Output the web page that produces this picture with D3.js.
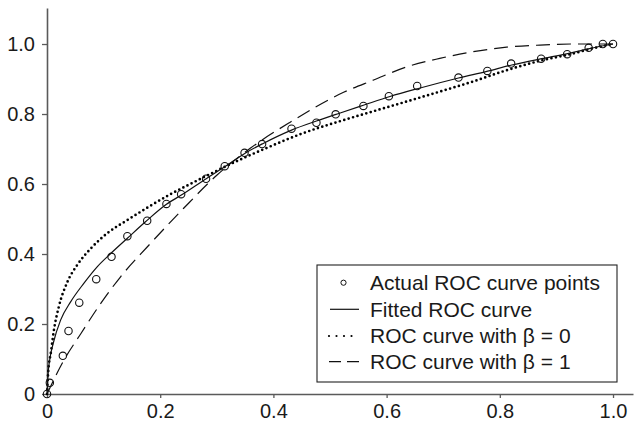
<!DOCTYPE html>
<html>
<head>
<meta charset="utf-8">
<script src="https://cdn.jsdelivr.net/npm/d3@7"></script>
<style>
  html, body { margin: 0; padding: 0; background: #fff; }
  svg { display: block; }
  text { font-family: "Liberation Sans", Arial, Helvetica, sans-serif; fill: #1a1a1a; }
</style>
</head>
<body>
<svg id="chart" width="634" height="425"></svg>
<script>
// ---- data ----
const pointsX = [0, 0.005, 0.028, 0.038, 0.057, 0.087, 0.114, 0.142, 0.177, 0.211, 0.237, 0.281, 0.314, 0.349, 0.380, 0.432, 0.476, 0.510, 0.559, 0.604, 0.654, 0.727, 0.778, 0.820, 0.873, 0.919, 0.957, 0.982, 1.0];
const pointsY = [0, 0.032, 0.109, 0.180, 0.261, 0.328, 0.392, 0.451, 0.495, 0.543, 0.571, 0.615, 0.651, 0.689, 0.714, 0.758, 0.775, 0.799, 0.823, 0.851, 0.880, 0.904, 0.923, 0.944, 0.958, 0.971, 0.989, 1.0, 1.0];

const fittedX = [0, 0.002, 0.005, 0.011, 0.024, 0.042, 0.065, 0.089, 0.113, 0.142, 0.174, 0.211, 0.238, 0.282, 0.314, 0.350, 0.382, 0.432, 0.476, 0.518, 0.559, 0.606, 0.656, 0.727, 0.777, 0.821, 0.874, 0.918, 0.956, 0.983, 1.0];
const fittedY = [0, 0.060, 0.100, 0.145, 0.211, 0.264, 0.316, 0.364, 0.402, 0.445, 0.492, 0.542, 0.569, 0.616, 0.649, 0.688, 0.716, 0.754, 0.780, 0.803, 0.825, 0.850, 0.873, 0.903, 0.922, 0.940, 0.958, 0.972, 0.986, 0.995, 1.0];

const beta0X = [0, 0.002, 0.007, 0.012, 0.021, 0.036, 0.054, 0.077, 0.107, 0.142, 0.182, 0.217, 0.253, 0.300, 0.347, 0.388, 0.447, 0.535, 0.577, 0.636, 0.694, 0.753, 0.812, 0.871, 0.930, 0.965, 1.0];
const beta0Y = [0, 0.060, 0.120, 0.180, 0.250, 0.320, 0.370, 0.415, 0.460, 0.497, 0.537, 0.570, 0.600, 0.638, 0.674, 0.703, 0.742, 0.788, 0.808, 0.836, 0.864, 0.893, 0.925, 0.952, 0.973, 0.988, 1.0];

const beta1X = [0, 0.030, 0.060, 0.095, 0.130, 0.177, 0.241, 0.300, 0.359, 0.429, 0.524, 0.577, 0.636, 0.694, 0.753, 0.812, 0.871, 0.930, 1.0];
const beta1Y = [0, 0.097, 0.173, 0.259, 0.335, 0.420, 0.530, 0.625, 0.702, 0.776, 0.862, 0.897, 0.935, 0.959, 0.978, 0.991, 0.997, 1.0, 1.0];

const tickValues = [0, 0.2, 0.4, 0.6, 0.8, 1.0];
const tickLabels = ["0", "0.2", "0.4", "0.6", "0.8", "1.0"];

const legendLabels = ["Actual ROC curve points", "Fitted ROC curve", "ROC curve with \u03B2 = 0", "ROC curve with \u03B2 = 1"];

// ---- drawing ----
const svg = d3.select("#chart");

const x = d3.scaleLinear().domain([0, 1.0353]).range([47, 633]);
const y = d3.scaleLinear().domain([0, 1.1029]).range([394, 8]);

const axisColor = "#5a5a5a";

const xAxis = d3.axisBottom(x)
  .tickValues(tickValues)
  .tickFormat((d, i) => tickLabels[i])
  .tickSizeInner(4).tickSizeOuter(0).tickPadding(6);
const yAxis = d3.axisLeft(y)
  .tickValues(tickValues)
  .tickFormat((d, i) => tickLabels[i])
  .tickSizeInner(5).tickSizeOuter(0).tickPadding(7);

const gx = svg.append("g").attr("transform", `translate(0,${y(0)})`).call(xAxis);
const gy = svg.append("g").attr("transform", `translate(${x(0)},0)`).call(yAxis);
[gx, gy].forEach(g => {
  g.select(".domain").attr("stroke", axisColor).attr("stroke-width", 1.6);
  g.selectAll(".tick line").attr("stroke", axisColor).attr("stroke-width", 1.3);
  g.selectAll(".tick text").attr("font-size", 20).attr("fill", "#1a1a1a")
    .attr("font-family", "'Liberation Sans', Arial, Helvetica, sans-serif");
});

const line = d3.line().x(d => x(d[0])).y(d => y(d[1])).curve(d3.curveMonotoneX);
const zip = (a, b) => a.map((v, i) => [v, b[i]]);

// dashed (beta = 1)
svg.append("path").datum(zip(beta1X, beta1Y))
  .attr("d", line).attr("fill", "none").attr("stroke", "#111")
  .attr("stroke-width", 1.2).attr("stroke-dasharray", "14 7");

// dotted (beta = 0)
svg.append("path").datum(zip(beta0X, beta0Y))
  .attr("d", line).attr("fill", "none").attr("stroke", "#000")
  .attr("stroke-width", 2.7).attr("stroke-linecap", "round").attr("stroke-dasharray", "0 4.6");

// fitted (solid)
svg.append("path").datum(zip(fittedX, fittedY))
  .attr("d", line).attr("fill", "none").attr("stroke", "#111")
  .attr("stroke-width", 1.2);

// actual points
svg.append("g").selectAll("circle").data(zip(pointsX, pointsY)).join("circle")
  .attr("cx", d => x(d[0])).attr("cy", d => y(d[1])).attr("r", 3.7)
  .attr("fill", "none").attr("stroke", "#111").attr("stroke-width", 1.1);

// legend
const lg = svg.append("g");
lg.append("rect").attr("x", 317).attr("y", 265).attr("width", 300).attr("height", 117)
  .attr("fill", "#fff").attr("stroke", "#222").attr("stroke-width", 1.1);
const rowY = [282.7, 309.3, 336, 361.7];
legendLabels.forEach((t, i) => {
  lg.append("text").attr("x", 370).attr("y", rowY[i] + 7.3).attr("font-size", 21).text(t);
});
lg.append("circle").attr("cx", 343.5).attr("cy", rowY[0]).attr("r", 2.6)
  .attr("fill", "none").attr("stroke", "#111").attr("stroke-width", 1);
lg.append("line").attr("x1", 330).attr("x2", 359).attr("y1", rowY[1]).attr("y2", rowY[1])
  .attr("stroke", "#111").attr("stroke-width", 1.2);
lg.append("line").attr("x1", 329).attr("x2", 359).attr("y1", rowY[2]).attr("y2", rowY[2])
  .attr("stroke", "#000").attr("stroke-width", 2.2).attr("stroke-linecap", "round").attr("stroke-dasharray", "0 7.5");
lg.append("line").attr("x1", 329).attr("x2", 359).attr("y1", rowY[3]).attr("y2", rowY[3])
  .attr("stroke", "#111").attr("stroke-width", 1.2).attr("stroke-dasharray", "12 6");
</script>
</body>
</html>
